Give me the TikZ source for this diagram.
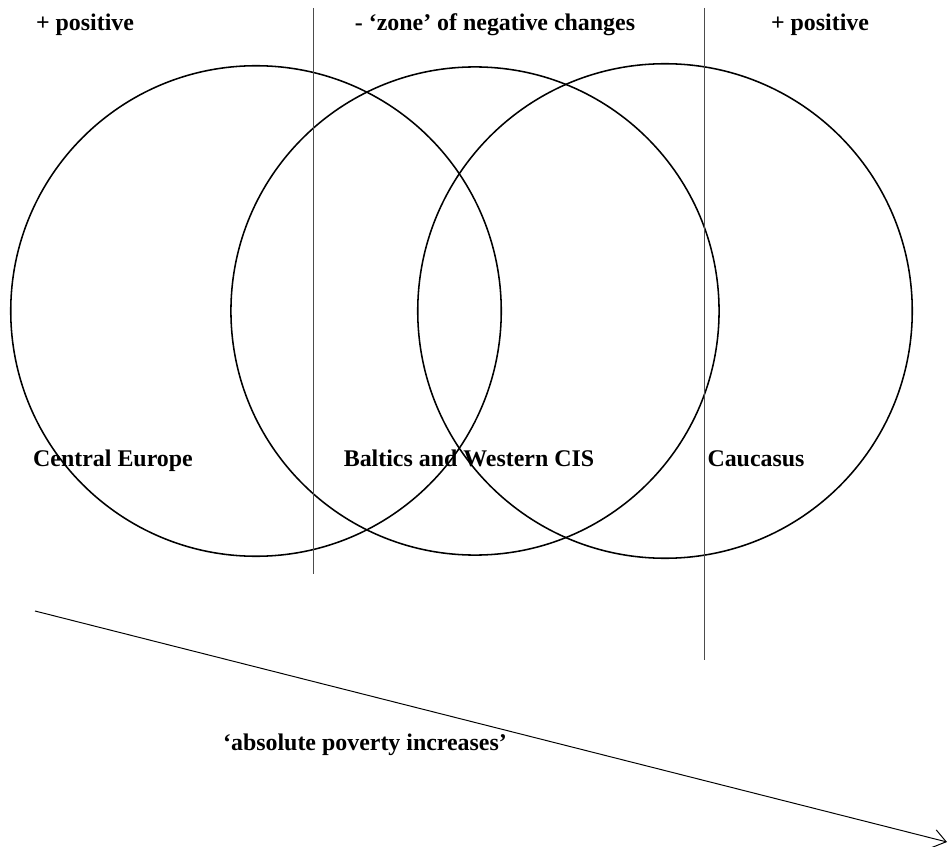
\documentclass[tikz,border=0pt]{standalone}
\usepackage{fontspec}
\setmainfont{Liberation Serif}
\usetikzlibrary{arrows.meta}

\begin{document}
\begin{tikzpicture}[x=0.025cm,y=-0.025cm,
  ring/.style={line width=1.1pt},
  zone/.style={black!70,line width=0.6pt},
  lbl/.style={font=\fontsize{17}{19}\selectfont\bfseries,anchor=base,inner sep=0pt}]
\useasboundingbox (0,0) rectangle (949,847);
\draw[ring](256,311)circle[radius=6.13cm];
\draw[ring](475,311)circle[radius=6.1cm];
\draw[ring](665,311)circle[radius=6.18cm];
\draw[zone](313,8)--(313,574);
\draw[zone](704,8)--(704,660);
\node[lbl] (posleft) at (85,31) {+ positive};
\node[lbl] (negzone) at (495,31) {- ‘zone’ of negative changes};
\node[lbl] (posright) at (820,31) {+ positive};
\node[lbl] (central) at (113,466) {Central Europe};
\node[lbl] (baltics) at (469,466) {Baltics and Western CIS};
\node[lbl] (caucasus) at (756,466) {Caucasus};
\node[lbl] (poverty) at (365,750) {‘absolute poverty increases’};
\coordinate (poorA) at (35,611);
\coordinate (poorB) at (947,842);
\draw[-{Straight Barb[length=9pt,width=13pt]},line width=0.7pt](poorA)--(poorB);
\end{tikzpicture}
\end{document}
